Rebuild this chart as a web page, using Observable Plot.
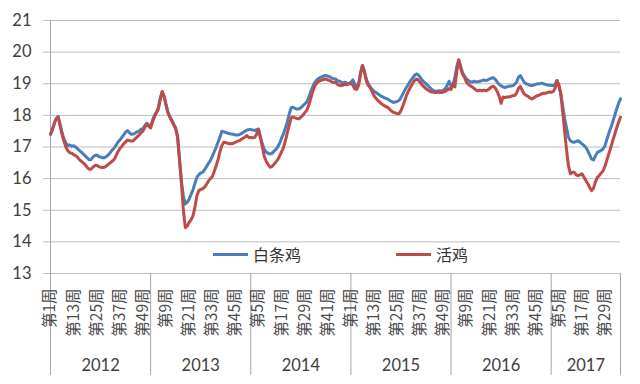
<!DOCTYPE html>
<html>
<head>
<meta charset="utf-8">
<script src="https://cdn.jsdelivr.net/npm/d3@7"></script>
<script src="https://cdn.jsdelivr.net/npm/@observablehq/plot@0.6"></script>
<style>
  html, body { margin: 0; padding: 0; background: #ffffff; }
  #wrap { position: relative; width: 640px; height: 384px; font-family: Lato, "Noto Sans CJK SC", sans-serif; }
  .leg { position: absolute; top: 244px; height: 20px; display: flex; align-items: center; font-size: 16px; color: #333; font-family: "Noto Sans CJK SC", sans-serif; }
  .leg span.sw { display: inline-block; width: 35px; height: 3px; margin-right: 5px; }
</style>
</head>
<body>
<div id="wrap"></div>
<script>
const years = ["2012", "2013", "2014", "2015", "2016", "2017"];
const yTicks = [13, 14, 15, 16, 17, 18, 19, 20, 21];
const weekTickLabels = ["第1周","第13周","第25周","第37周","第49周","第9周","第21周","第33周","第45周","第5周","第17周","第29周","第41周","第1周","第13周","第25周","第37周","第49周","第9周","第21周","第33周","第45周","第5周","第17周","第29周"];
const seriesNames = ["白条鸡", "活鸡"];
const seriesColors = ["#4a7ebb", "#be4b48"];

// 白条鸡 (white-strip chicken), weekly
const white2012 = [17.41,17.55,17.75,17.9,17.96,17.7,17.45,17.25,17.12,17.05,
17.06,17.02,17.04,17.0,16.95,16.89,16.84,16.78,16.72,16.66,
16.6,16.6,16.68,16.73,16.75,16.7,16.68,16.66,16.66,16.7,
16.75,16.82,16.9,16.96,17.05,17.15,17.22,17.3,17.38,17.47,
17.52,17.45,17.4,17.41,17.44,17.48,17.5,17.56,17.58,17.68,
17.75,17.7];
const white2013 = [17.65,17.85,18.0,18.1,18.25,18.55,18.75,18.6,18.35,18.1,
17.95,17.85,17.72,17.6,17.35,16.6,15.9,15.45,15.2,15.25,
15.35,15.5,15.65,15.85,16.04,16.12,16.18,16.2,16.28,16.38,
16.48,16.57,16.7,16.85,16.99,17.15,17.32,17.5,17.48,17.46,
17.44,17.42,17.41,17.4,17.38,17.38,17.39,17.42,17.46,17.5,
17.54,17.55];
const white2014 = [17.55,17.54,17.52,17.55,17.57,17.31,17.1,16.92,16.84,16.8,
16.78,16.8,16.86,16.92,17.0,17.12,17.28,17.42,17.6,17.8,
18.05,18.24,18.26,18.22,18.2,18.2,18.24,18.3,18.36,18.42,
18.55,18.72,18.88,19.02,19.1,19.16,19.2,19.22,19.25,19.26,
19.24,19.22,19.18,19.16,19.15,19.1,19.08,19.05,19.02,19.05,
19.02,19.0];
const white2015 = [19.05,19.12,19.0,18.9,19.0,19.35,19.58,19.4,19.15,19.0,
18.9,18.82,18.76,18.72,18.68,18.64,18.6,18.57,18.54,18.52,
18.48,18.44,18.41,18.42,18.44,18.47,18.56,18.68,18.8,18.9,
19.0,19.1,19.18,19.26,19.31,19.28,19.2,19.12,19.05,19.0,
18.94,18.88,18.82,18.78,18.76,18.77,18.78,18.77,18.8,18.84,
18.95,19.08];
const white2016 = [18.92,18.98,19.2,19.55,19.75,19.55,19.35,19.24,19.15,19.1,
19.06,19.05,19.08,19.06,19.06,19.08,19.1,19.12,19.1,19.12,
19.15,19.18,19.19,19.14,19.05,18.98,18.94,18.9,18.88,18.9,
18.92,18.93,18.94,18.98,19.05,19.2,19.26,19.15,19.05,19.0,
18.98,18.95,18.94,18.96,18.98,19.0,19.0,19.02,19.0,18.98,
18.96,18.95];
const white2017 = [18.95,18.94,18.98,19.1,18.95,18.68,18.3,17.9,17.6,17.3,
17.2,17.16,17.15,17.18,17.2,17.15,17.1,17.05,16.99,16.88,
16.75,16.62,16.59,16.72,16.83,16.86,16.9,16.94,17.05,17.25,
17.45,17.62,17.8,18.0,18.2,18.38,18.52];

// 活鸡 (live chicken), weekly
const live2012 = [17.4,17.55,17.75,17.9,17.95,17.68,17.4,17.18,17.0,16.88,
16.82,16.8,16.76,16.73,16.68,16.6,16.55,16.5,16.44,16.36,
16.3,16.3,16.36,16.41,16.42,16.38,16.36,16.35,16.36,16.4,
16.45,16.5,16.55,16.6,16.72,16.85,16.95,17.02,17.1,17.16,
17.22,17.2,17.19,17.2,17.26,17.32,17.38,17.45,17.5,17.62,
17.72,17.66];
const live2013 = [17.6,17.8,17.95,18.08,18.2,18.5,18.75,18.6,18.32,18.08,
17.94,17.82,17.7,17.57,17.3,16.6,15.85,15.0,14.45,14.5,
14.62,14.7,14.82,15.1,15.45,15.62,15.66,15.68,15.73,15.82,
15.92,16.0,16.06,16.22,16.4,16.6,16.85,17.05,17.15,17.14,
17.12,17.1,17.1,17.12,17.15,17.18,17.2,17.24,17.28,17.32,
17.36,17.3];
const live2014 = [17.3,17.29,17.3,17.4,17.56,17.3,17.0,16.7,16.55,16.45,
16.36,16.38,16.45,16.52,16.6,16.72,16.85,16.99,17.2,17.45,
17.7,17.92,17.95,17.92,17.9,17.89,17.94,18.0,18.08,18.15,
18.3,18.5,18.72,18.9,19.0,19.06,19.1,19.12,19.14,19.15,
19.12,19.1,19.06,19.04,19.05,18.98,18.95,18.94,18.96,18.98,
18.97,19.0];
const live2015 = [19.0,18.96,18.84,18.82,18.95,19.3,19.58,19.38,19.1,18.95,
18.88,18.75,18.62,18.54,18.47,18.42,18.36,18.32,18.28,18.26,
18.2,18.14,18.1,18.08,18.06,18.05,18.15,18.3,18.48,18.65,
18.78,18.9,19.0,19.1,19.15,19.12,19.04,18.96,18.9,18.84,
18.8,18.76,18.74,18.73,18.72,18.74,18.72,18.72,18.74,18.76,
18.8,18.85];
const live2016 = [18.82,19.0,18.9,19.4,19.75,19.5,19.3,19.2,19.05,18.98,
18.94,18.9,18.85,18.8,18.78,18.8,18.78,18.8,18.78,18.8,
18.85,18.9,18.92,18.86,18.75,18.6,18.38,18.58,18.56,18.58,
18.58,18.6,18.62,18.63,18.7,18.85,18.92,18.78,18.68,18.63,
18.6,18.55,18.52,18.56,18.6,18.62,18.65,18.68,18.7,18.7,
18.72,18.74];
const live2017 = [18.73,18.75,18.85,19.1,18.95,18.68,18.1,17.5,16.9,16.4,
16.15,16.2,16.2,16.12,16.09,16.12,16.15,16.05,15.94,15.84,
15.72,15.62,15.7,15.9,16.04,16.1,16.18,16.25,16.4,16.6,
16.8,16.99,17.2,17.4,17.6,17.78,17.94];

const whiteYears = [white2012, white2013, white2014, white2015, white2016, white2017];
const liveYears = [live2012, live2013, live2014, live2015, live2016, live2017];

function toRows(name, perYear) {
  const out = [];
  let i = 0;
  perYear.forEach((arr, yi) => arr.forEach((v, w) => out.push({series: name, i: i++, year: years[yi], week: w + 1, v})));
  return out;
}
const whiteRows = toRows(seriesNames[0], whiteYears);
const liveRows = toRows(seriesNames[1], liveYears);
const lastIndex = whiteRows.length - 1;

// year boundaries and centres (in week-index units)
const yearStarts = [];
{ let s = 0; whiteYears.forEach(a => { yearStarts.push(s); s += a.length; }); }
const yearEnds = yearStarts.map((s, k) => k < yearStarts.length - 1 ? yearStarts[k + 1] : lastIndex);
const separators = [...yearStarts, lastIndex];
const yearCenters = yearStarts.map((s, k) => (s + yearEnds[k]) / 2);
const weekTickIdx = weekTickLabels.map((_, k) => k * 12);
const weekLabelMap = new Map(weekTickIdx.map((d, k) => [d, weekTickLabels[k]]));
const yearLabelMap = new Map(yearCenters.map((d, k) => [d, years[k]]));

const chart = Plot.plot({
  width: 640,
  height: 384,
  marginLeft: 50,
  marginRight: 20,
  marginTop: 20,
  marginBottom: 111,
  style: {fontFamily: "Lato, 'Noto Sans CJK SC', sans-serif", background: "#ffffff", color: "#404040", overflow: "visible"},
  x: {type: "linear", domain: [0, lastIndex]},
  y: {domain: [13, 21]},
  marks: [
    Plot.gridY(yTicks, {stroke: "#bdbdbd", strokeOpacity: 1}),
    Plot.axisY({ticks: yTicks, tickSize: 7, tickPadding: 12, stroke: "#bdbdbd", fill: "#404040", fontSize: 16.5, label: null}),
    Plot.ruleX([0], {stroke: "#a6a6a6"}),
    Plot.axisX({ticks: separators, tickSize: 102, tickFormat: () => "", stroke: "#a6a6a6", label: null}),
    Plot.axisX({ticks: weekTickIdx, tickFormat: d => weekLabelMap.get(d), tickRotate: -90, tickSize: 0, tickPadding: 15, fontSize: 15.5, fill: "#4a4a4a", fontFamily: "'Noto Sans CJK SC', sans-serif", label: null}),
    Plot.axisX({ticks: yearCenters, tickFormat: d => yearLabelMap.get(d), tickSize: 0, tickPadding: 86, fontSize: 16.5, fill: "#404040", label: null}),
    Plot.line(whiteRows, {x: "i", y: "v", stroke: seriesColors[0], strokeWidth: 3}),
    Plot.line(liveRows, {x: "i", y: "v", stroke: seriesColors[1], strokeWidth: 3})
  ]
});
const wrap = document.getElementById("wrap");
wrap.appendChild(chart);

// legend (inside plot area, bottom)
const legendX = [213, 396];
seriesNames.forEach((name, k) => {
  const d = document.createElement("div");
  d.className = "leg";
  d.style.left = legendX[k] + "px";
  const sw = document.createElement("span");
  sw.className = "sw";
  sw.style.background = seriesColors[k];
  d.appendChild(sw);
  d.appendChild(document.createTextNode(name));
  wrap.appendChild(d);
});
</script>
</body>
</html>
